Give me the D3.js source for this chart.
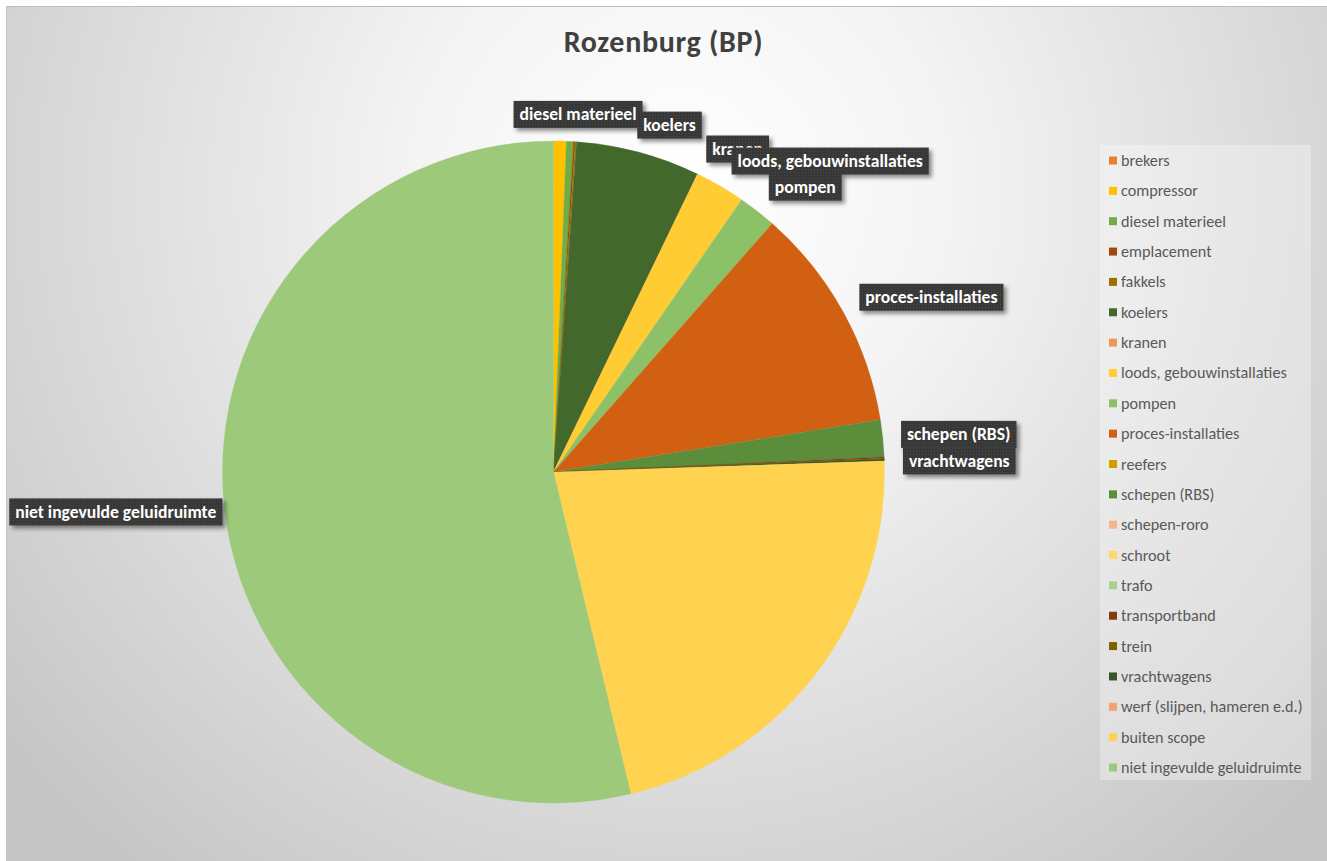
<!DOCTYPE html>
<html>
<head>
<meta charset="utf-8">
<script src="https://cdn.jsdelivr.net/npm/d3@7"></script>
<style>
  html, body { margin: 0; padding: 0; background: #ffffff; }
  svg { display: block; }
</style>
</head>
<body>
<svg id="chart" width="1327" height="861"></svg>
<script>
// Geluidruimte per bronsoort, Rozenburg (BP)
const title = "Rozenburg (BP)";

const categories = [
  "brekers", "compressor", "diesel materieel", "emplacement", "fakkels",
  "koelers", "kranen", "loods, gebouwinstallaties", "pompen", "proces-installaties",
  "reefers", "schepen (RBS)", "schepen-roro", "schroot", "trafo",
  "transportband", "trein", "vrachtwagens", "werf (slijpen, hameren e.d.)",
  "buiten scope", "niet ingevulde geluidruimte"
];

// share of the total (%)
const values = [
  0, 0.62, 0.35, 0.08, 0.06,
  6.05, 0.02, 2.44, 1.87, 10.99,
  0, 1.80, 0, 0, 0,
  0.06, 0.03, 0.10, 0,
  21.78, 53.75
];

const colors = [
  "#ED7D31", "#FFC000", "#70AD47", "#9E480E", "#997300",
  "#43682B", "#F1975A", "#FFCD33", "#8CC168", "#D26012",
  "#D39F00", "#5B8D3B", "#F5B48C", "#FFD96A", "#A9D18E",
  "#843C0C", "#7F6000", "#375623", "#F3A370",
  "#FFD34F", "#9DC97A"
];

// categories that carry a data label, drawn in this order
const labelled = [
  "diesel materieel", "koelers", "kranen", "loods, gebouwinstallaties", "pompen",
  "proces-installaties", "schepen (RBS)", "vrachtwagens", "niet ingevulde geluidruimte"
];
// label box centre, relative to the slice's outer mid point
const labelShiftX = [8, 31, 40, 110, 48, 88, 76, 75, -109];
const labelShiftY = [-27, -27, -25, -25, -24, -15, -4, 1, 1];

const svg = d3.select("#chart");
const W = 1327, H = 861;
const font = "Carlito, Calibri, Lato, 'Open Sans', sans-serif";

const defs = svg.append("defs");

// chart area background
const bg = defs.append("radialGradient")
  .attr("id", "bgGrad")
  .attr("gradientUnits", "userSpaceOnUse")
  .attr("cx", 680).attr("cy", 190).attr("r", 880);
bg.append("stop").attr("offset", 0).attr("stop-color", "#ffffff");
bg.append("stop").attr("offset", 0.3).attr("stop-color", "#f4f4f4");
bg.append("stop").attr("offset", 1).attr("stop-color", "#c5c5c5");

// dotted fill of the data label boxes
const pat = defs.append("pattern")
  .attr("id", "dots").attr("patternUnits", "userSpaceOnUse")
  .attr("width", 3).attr("height", 3);
pat.append("rect").attr("width", 3).attr("height", 3).attr("fill", "#393939");
pat.append("rect").attr("x", 1).attr("y", 1).attr("width", 1).attr("height", 1).attr("fill", "#4a4a4a");

const shadow = defs.append("filter").attr("id", "lblShadow")
  .attr("x", "-20%").attr("y", "-40%").attr("width", "150%").attr("height", "200%");
shadow.append("feDropShadow")
  .attr("dx", 3).attr("dy", 3).attr("stdDeviation", 2)
  .attr("flood-color", "#000").attr("flood-opacity", 0.45);

svg.append("rect").attr("x", 6).attr("y", 6).attr("width", W - 6).attr("height", H - 6)
  .attr("fill", "url(#bgGrad)");
svg.append("line").attr("x1", 6).attr("x2", W).attr("y1", 6.5).attr("y2", 6.5)
  .attr("stroke", "#bdbdbd").attr("stroke-width", 1);
svg.append("line").attr("x1", 6.5).attr("x2", 6.5).attr("y1", 6).attr("y2", H)
  .attr("stroke", "#c4c4c4").attr("stroke-width", 1);

// title
svg.append("text")
  .attr("x", 663.5).attr("y", 52)
  .attr("text-anchor", "middle")
  .attr("font-family", font).attr("font-weight", "bold").attr("font-size", 30)
  .attr("letter-spacing", 0.7)
  .attr("fill", "#404040")
  .text(title);

// pie
const cx = 553.5, cy = 472, R = 331;
const data = categories.map((c, i) => ({ name: c, value: values[i], color: colors[i] }));
const pie = d3.pie().sort(null).value(d => d.value);
const arcs = pie(data);
const arc = d3.arc().innerRadius(0).outerRadius(R);

const g = svg.append("g").attr("transform", `translate(${cx},${cy})`);
g.selectAll("path.slice")
  .data(arcs.filter(a => a.data.value > 0))
  .join("path")
  .attr("class", "slice")
  .attr("d", arc)
  .attr("fill", d => d.data.color)
  .attr("stroke", d => d.data.color)
  .attr("stroke-width", 0.3);

// data labels
const lblSize = 17.6;
labelled.forEach((name, i) => {
  const a = arcs.find(d => d.data.name === name);
  const mid = (a.startAngle + a.endAngle) / 2;
  const px = cx + R * Math.sin(mid);
  const py = cy - R * Math.cos(mid);
  const lx = px + labelShiftX[i];
  const ly = py + labelShiftY[i];
  const lg = svg.append("g");
  const txt = lg.append("text")
    .attr("x", lx).attr("y", ly)
    .attr("text-anchor", "middle").attr("dominant-baseline", "central")
    .attr("font-family", font).attr("font-weight", "bold").attr("font-size", lblSize)
    .attr("fill", "#ffffff")
    .text(name);
  const bb = txt.node().getBBox();
  lg.insert("rect", "text")
    .attr("x", bb.x - 6).attr("y", ly - 13.5)
    .attr("width", bb.width + 12).attr("height", 27)
    .attr("fill", "url(#dots)")
    .attr("filter", "url(#lblShadow)");
});

// legend
const lgX = 1100, lgY = 145, lgW = 211, lgH = 635;
svg.append("rect").attr("x", lgX).attr("y", lgY).attr("width", lgW).attr("height", lgH)
  .attr("fill", "#ffffff").attr("fill-opacity", 0.3);
const step = 30.35;
const items = svg.append("g").selectAll("g")
  .data(data).join("g")
  .attr("transform", (d, i) => `translate(${lgX + 9},${lgY + 15.5 + i * step})`);
items.append("rect")
  .attr("x", 0).attr("y", -4).attr("width", 8).attr("height", 8)
  .attr("fill", d => d.color);
items.append("text")
  .attr("x", 12).attr("y", 0)
  .attr("dominant-baseline", "central")
  .attr("font-family", font).attr("font-size", 16.2)
  .attr("fill", "#595959")
  .text(d => d.name);
</script>
</body>
</html>
